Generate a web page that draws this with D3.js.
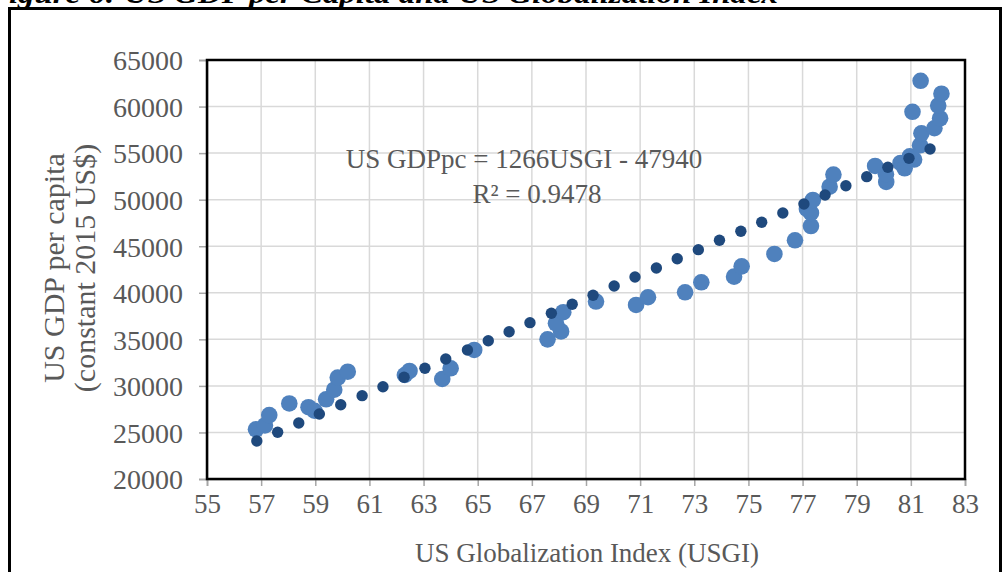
<!DOCTYPE html>
<html>
<head>
<meta charset="utf-8">
<script src="https://cdn.jsdelivr.net/npm/d3@7"></script>
<style>
  body { margin: 0; background: #fff; }
  text { font-family: "Liberation Serif", "Times New Roman", serif; fill: #595959; }
</style>
</head>
<body>
<div id="chart"></div>
<script>
// actual data (light blue markers)
const usgi = [56.81, 57.14, 57.30, 58.04, 58.75, 58.97, 59.40, 59.70, 59.83, 60.20,
  62.31, 62.48, 63.69, 64.00, 64.87, 67.58, 68.08, 67.89, 68.16, 69.37,
  70.85, 71.29, 72.66, 73.26, 74.47, 74.75, 75.96, 76.72, 77.31, 77.31,
  77.16, 77.38, 78.00, 78.14, 79.68, 80.09, 80.08, 80.62, 80.77, 80.96,
  81.12, 81.34, 81.39, 81.06, 81.36, 81.87, 82.08, 82.01, 82.13];
const gdppc = [25340, 25750, 26870, 28110, 27710, 27330, 28560, 29590, 30900, 31520,
  31170, 31600, 30740, 31890, 33860, 35000, 35850, 36720, 37910, 39060,
  38690, 39520, 40050, 41130, 41730, 42840, 44170, 45640, 47170, 48570,
  49000, 49970, 51390, 52700, 53620, 51910, 52730, 53940, 53370, 54660,
  54310, 55840, 57130, 59440, 62770, 57670, 58740, 60110, 61380];

// fitted values (dark blue markers)
const fitX = [56.84, 57.61, 58.39, 59.15, 59.94, 60.73, 61.50, 62.28, 63.05, 63.82,
  64.62, 65.39, 66.16, 66.93, 67.72, 68.49, 69.26, 70.04, 70.81, 71.60,
  72.37, 73.15, 73.93, 74.72, 75.49, 76.27, 77.05, 77.83, 78.60, 79.37,
  80.15, 80.93, 81.71];
const fitY = [24080, 25020, 26010, 26980, 27980, 28950, 29910, 30920, 31890, 32890,
  33860, 34850, 35820, 36790, 37800, 38760, 39730, 40730, 41700, 42660,
  43660, 44630, 45640, 46600, 47570, 48570, 49540, 50500, 51500, 52470,
  53480, 54440, 55440];

const xTicks = [55, 57, 59, 61, 63, 65, 67, 69, 71, 73, 75, 77, 79, 81, 83];
const yTicks = [20000, 25000, 30000, 35000, 40000, 45000, 50000, 55000, 60000, 65000];

const W = 1005, H = 572;
const m = { left: 207, right: 965, top: 60, bottom: 479 };

const svg = d3.select("#chart").append("svg")
  .attr("width", W)
  .attr("height", H);

// figure caption, cut off at the top like the source
svg.append("text")
  .attr("x", -13)
  .attr("y", 3)
  .attr("textLength", 791)
  .attr("lengthAdjust", "spacingAndGlyphs")
  .style("font-weight", "bold")
  .style("font-style", "italic")
  .style("font-size", "27px")
  .style("fill", "#000")
  .text("Figure 6: US GDP per Capita and US Globalization Index");

// outer chart border
svg.append("rect")
  .attr("x", 9.5).attr("y", 8.5)
  .attr("width", 991).attr("height", 620)
  .attr("fill", "none")
  .attr("stroke", "#000")
  .attr("stroke-width", 3);

const x = d3.scaleLinear().domain([55, 83]).range([m.left, m.right]);
const y = d3.scaleLinear().domain([20000, 65000]).range([m.bottom, m.top]);

// gridlines
svg.append("g")
  .selectAll("line")
  .data(xTicks.slice(1, -1))
  .enter().append("line")
  .attr("x1", d => x(d)).attr("x2", d => x(d))
  .attr("y1", m.top).attr("y2", m.bottom)
  .attr("stroke", "#d9d9d9").attr("stroke-width", 1.5);

svg.append("g")
  .selectAll("line")
  .data(yTicks.slice(1, -1))
  .enter().append("line")
  .attr("x1", m.left).attr("x2", m.right)
  .attr("y1", d => y(d)).attr("y2", d => y(d))
  .attr("stroke", "#d9d9d9").attr("stroke-width", 1.5);

// axes
const xAxis = svg.append("g")
  .attr("transform", `translate(0,${m.bottom})`)
  .call(d3.axisBottom(x).tickValues(xTicks).tickSize(7).tickPadding(8).tickFormat(d3.format("d")));
const yAxis = svg.append("g")
  .attr("transform", `translate(${m.left},0)`)
  .call(d3.axisLeft(y).tickValues(yTicks).tickSize(8).tickPadding(16).tickFormat(d3.format("d")));

[xAxis, yAxis].forEach(a => {
  a.selectAll("path").attr("stroke", "#868686").attr("stroke-width", 1.5);
  a.selectAll("line").attr("stroke", "#a6a6a6").attr("stroke-width", 1.5);
  a.selectAll("text")
    .style("font-family", "'Liberation Serif', serif")
    .style("font-size", "27px")
    .style("fill", "#595959");
});
yAxis.selectAll("text").style("font-size", "28px").attr("dy", "0.35em");

// plot area frame
svg.append("rect")
  .attr("x", m.left).attr("y", m.top)
  .attr("width", m.right - m.left).attr("height", m.bottom - m.top)
  .attr("fill", "none")
  .attr("stroke", "#000")
  .attr("stroke-width", 2.5);

// markers
svg.append("g")
  .selectAll("circle")
  .data(usgi)
  .enter().append("circle")
  .attr("cx", d => x(d))
  .attr("cy", (d, i) => y(gdppc[i]))
  .attr("r", 8.3)
  .attr("fill", "#4f81bd");

svg.append("g")
  .selectAll("circle")
  .data(fitX)
  .enter().append("circle")
  .attr("cx", d => x(d))
  .attr("cy", (d, i) => y(fitY[i]))
  .attr("r", 5.7)
  .attr("fill", "#1f497d");

// regression label
svg.append("text")
  .attr("x", 524).attr("y", 168)
  .attr("text-anchor", "middle")
  .style("font-size", "27px")
  .text("US GDPpc = 1266USGI - 47940");
svg.append("text")
  .attr("x", 537).attr("y", 203)
  .attr("text-anchor", "middle")
  .style("font-size", "27px")
  .text("R² = 0.9478");

// axis titles
svg.append("text")
  .attr("x", 587).attr("y", 562)
  .attr("text-anchor", "middle")
  .style("font-size", "27px")
  .text("US Globalization Index (USGI)");

const yt = svg.append("text")
  .attr("transform", "translate(0,268) rotate(-90)")
  .attr("text-anchor", "middle")
  .style("font-size", "30px");
yt.append("tspan").attr("x", 0).attr("y", 64).text("US GDP per capita");
yt.append("tspan").attr("x", 0).attr("y", 95).text("(constant 2015 US$)");
</script>
</body>
</html>
